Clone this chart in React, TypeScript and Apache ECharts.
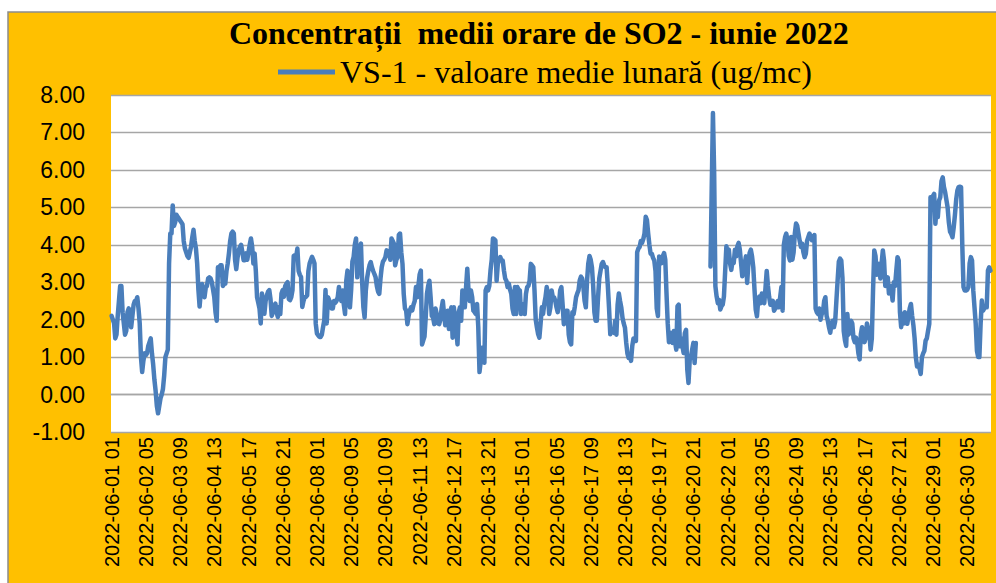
import React, { useEffect, useRef } from "react";
import * as echarts from "echarts";

const TITLE = "Concentrații  medii orare de SO2 - iunie 2022";
const SERIES_NAME = "VS-1 - valoare medie lunară (ug/mc)";

// Hourly values, 2022-06-01 01 ... 2022-06-30 24 (null = missing)
const days01to05: (number | null)[] = [
  2.1, 2.0, 1.9, 1.5, 1.6, 2.1, 2.5, 2.9, 2.9, 2.2,
  1.9, 1.6, 1.7, 2.2, 2.3, 2.1, 1.8, 2.1, 2.4, 2.5,
  2.5, 2.6, 2.3, 1.9, 1.0, 0.6, 0.9, 1.1, 1.05, 1.1,
  1.3, 1.4, 1.5, 1.1, 0.8, 0.4, 0.1, -0.3, -0.5, -0.3,
  -0.1, 0.0, 0.15, 0.5, 1.0, 1.1, 1.2, 3.5, 4.3, 4.3,
  5.05, 4.5, 4.6, 4.8, 4.75, 4.7, 4.65, 4.6, 4.55, 4.1,
  3.9, 3.8, 3.7, 3.65, 3.8, 3.95, 4.2, 4.4, 4.1, 3.9,
  3.5, 2.8, 2.35, 2.75, 2.95, 2.8, 2.6, 2.85, 2.9, 3.1,
  3.13, 3.1, 3.0, 2.8, 2.6, 2.2, 1.97, 3.4, 3.4, 3.45,
  3.45, 2.9, 2.95, 2.96, 3.3, 3.5, 3.77, 4.1, 4.3, 4.35,
  4.3, 3.6, 3.35, 3.65, 3.85, 3.95, 4.0, 3.8, 3.59, 3.59,
  3.77, 3.6, 3.8, 4.0, 4.17, 3.95, 3.5, 3.77, 3.3, 2.6,
];
const days06to10: (number | null)[] = [
  2.45, 2.3, 1.9, 2.7, 2.4, 2.16, 2.5, 2.65, 2.75, 2.79,
  2.55, 2.1, 2.2, 2.34, 2.43, 2.2, 2.07, 2.34, 2.15, 2.7,
  2.79, 2.61, 2.9, 2.96, 3.0, 2.55, 2.52, 2.6, 2.79, 3.7,
  3.72, 3.68, 3.9, 3.3, 3.2, 3.14, 2.34, 2.5, 2.6, 2.61,
  2.65, 3.3, 3.5, 3.59, 3.68, 3.6, 3.5, 1.9, 1.63, 1.58,
  1.54, 1.54, 1.6, 1.8, 1.98, 2.79, 1.9, 2.6, 2.52, 2.45,
  2.3, 2.3, 2.5, 2.45, 2.5, 2.6, 2.87, 2.6, 2.5, 2.78,
  2.4, 2.15, 3.04, 3.31, 2.5, 2.33, 2.8, 3.55, 3.67, 4.0,
  4.17, 3.13, 3.7, 3.94, 4.03, 3.0, 2.33, 2.06, 2.78, 3.1,
  3.3, 3.45, 3.54, 3.4, 3.3, 3.22, 3.13, 2.9, 2.75, 2.69,
  3.1, 3.4, 3.55, 3.6, 3.67, 3.85, 3.83, 3.81, 3.6, 4.17,
  4.1, 4.03, 3.45, 3.6, 3.67, 4.26, 4.3, 3.8, 3.49, 2.69,
];
const days11to15: (number | null)[] = [
  2.3, 2.24, 1.88, 2.1, 2.25, 2.33, 2.25, 2.4, 2.5, 2.87,
  2.6, 2.9, 3.2, 3.31, 1.34, 1.45, 1.55, 2.06, 2.69, 2.9,
  3.04, 2.6, 2.1, 2.06, 1.88, 2.3, 2.15, 1.9, 1.88, 2.0,
  2.3, 2.5, 2.15, 1.85, 2.0, 2.24, 1.75, 2.2, 2.33, 1.52,
  2.33, 2.0, 1.75, 1.34, 2.2, 2.33, 1.97, 2.78, 2.5, 2.33,
  2.87, 3.36, 2.78, 2.5, 2.78, 2.6, 2.24, 2.2, 2.15, 2.42,
  1.8, 0.6, 0.89, 1.25, 1.0, 0.85, 2.78, 2.87, 2.78, 2.9,
  3.31, 3.6, 4.17, 4.15, 4.12, 3.04, 3.49, 3.6, 3.67, 3.58,
  3.58, 3.31, 3.1, 3.04, 2.87, 2.96, 2.8, 2.69, 2.3, 2.15,
  2.87, 2.15, 2.87, 2.8, 2.78, 2.15, 2.42, 2.4, 2.15, 2.69,
  2.87, 2.9, 3.04, 3.49, 3.45, 3.4, 2.78, 2.0, 1.79, 1.61,
  1.52, 1.9, 2.33, 2.15, 2.42, 2.6, 2.87, 2.69, 2.15, 2.33,
];
const days16to20: (number | null)[] = [
  2.78, 2.6, 2.6, 2.5, 2.33, 2.2, 2.4, 2.78, 2.87, 2.4,
  1.88, 2.2, 2.24, 2.24, 1.6, 1.4, 1.34, 2.2, 2.15, 2.35,
  2.6, 2.7, 2.78, 3.05, 3.15, 3.1, 2.87, 2.5, 2.33, 3.04,
  3.5, 3.7, 3.6, 3.4, 2.9, 2.2, 1.97, 1.97, 2.6, 3.1,
  3.3, 3.49, 3.54, 3.45, 3.4, 3.4, 2.9, 2.3, 1.61, 1.75,
  1.7, 1.65, 1.97, 1.6, 2.4, 2.7, 2.5, 2.33, 2.05, 1.9,
  1.79, 1.4, 1.1, 0.98, 1.07, 0.9, 1.3, 1.5, 1.5, 1.43,
  3.8, 3.9, 3.94, 4.1, 4.05, 4.15, 4.3, 4.75, 4.66, 4.3,
  4.0, 3.76, 3.76, 3.65, 3.58, 3.3, 2.3, 2.1, 3.69, 3.6,
  3.51, 3.7, 3.78, 3.6, 2.7, 1.9, 1.4, 1.65, 1.6, 1.38,
  1.7, 1.4, 1.2, 2.36, 2.4, 1.29, 1.5, 1.3, 1.11, 1.64,
  1.73, 0.67, 0.31, 0.93, 1.02, 1.2, 1.38, 0.84, 1.38, null,
];
const days21to25: (number | null)[] = [
  null, null, null, null, null, null, null, null, null, null,
  3.42, 5.5, 7.52, 5.9, 2.89, 2.62, 2.44, 2.53, 2.27, 2.36,
  2.4, 2.62, 3.3, 3.96, 3.78, 3.87, 3.5, 3.33, 3.55, 3.51,
  3.87, 3.69, 3.96, 4.05, 3.87, 3.51, 3.16, 3.33, 3.5, 3.69,
  2.98, 3.5, 3.78, 3.87, 3.69, 3.4, 2.8, 2.27, 2.09, 2.5,
  2.62, 2.44, 2.7, 2.6, 2.44, 2.85, 3.3, 2.9, 2.6, 2.4,
  2.45, 2.5, 2.24, 2.3, 2.4, 2.5, 2.33, 2.6, 2.87, 2.24,
  4.0, 4.2, 4.3, 4.12, 3.7, 3.58, 4.21, 3.6, 3.8, 4.3,
  4.57, 4.5, 4.3, 4.1, 3.94, 4.03, 3.8, 3.67, 3.76, 4.1,
  4.2, 4.3, 4.21, 4.12, 4.2, 4.26, 2.3, 2.2, 2.15, 2.3,
  2.0, 2.15, 2.2, 2.5, 2.6, 2.1, 1.97, 1.79, 1.65, 1.9,
  1.97, 1.8, 1.95, 2.5, 3.04, 3.55, 3.63, 3.58, 3.1, 1.7,
];
const days26to30: (number | null)[] = [
  1.45, 1.3, 2.15, 1.6, 1.7, 1.97, 1.9, 1.5, 1.4, 1.52,
  1.4, 1.1, 0.94, 1.61, 1.8, 1.6, 1.4, 1.52, 1.9, 1.75,
  1.61, 1.2, 1.5, 2.8, 3.85, 3.7, 3.2, 3.3, 3.49, 3.1,
  3.5, 3.85, 3.58, 2.9, 3.0, 3.13, 2.7, 2.9, 2.8, 2.51,
  3.0, 2.9, 3.3, 3.67, 3.58, 2.2, 1.8, 2.15, 1.9, 2.2,
  2.1, 1.89, 2.1, 2.3, 2.42, 2.1, 1.85, 1.5, 1.0, 0.75,
  0.8, 0.7, 0.55, 1.0, 1.1, 1.17, 1.44, 1.5, 1.7, 1.89,
  5.27, 5.1, 5.3, 5.36, 4.56, 5.0, 4.74, 5.18, 5.27, 5.7,
  5.8, 5.54, 5.4, 5.2, 5.0, 4.6, 4.35, 4.29, 4.2, 4.47,
  4.8, 5.2, 5.45, 5.54, 5.55, 5.54, 4.0, 2.87, 2.78, 2.78,
  2.8, 2.87, 3.5, 3.67, 3.58, 2.78, 2.33, 1.89, 1.17, 1.0,
  1.0, 1.89, 2.51, 2.24, 2.3, 2.33, 2.33, 3.31, 3.4, 3.31,
];

const values = [
  ...days01to05,
  ...days06to10,
  ...days11to15,
  ...days16to20,
  ...days21to25,
  ...days26to30,
];

const pad = (n: number) => (n < 10 ? "0" + n : "" + n);
const categories: string[] = values.map((_, i) => {
  const h = i + 1;
  const day = 1 + Math.floor(h / 24);
  const hour = h % 24;
  return `2022-06-${pad(day)} ${pad(hour)}`;
});

export default function App() {
  const ref = useRef<HTMLDivElement>(null);
  useEffect(() => {
    if (!ref.current) return;
    const chart = echarts.init(ref.current, null, { renderer: "svg" });
    chart.setOption({
      animation: false,
      backgroundColor: "#ffffff",
      graphic: [
        {
          type: "rect",
          z: -10,
          silent: true,
          shape: { x: 8, y: 12, width: 995, height: 580 },
          style: { fill: "#FFC000", stroke: "#8C8C8C", lineWidth: 1.5 },
        },
      ],
      title: {
        text: TITLE,
        left: 229,
        top: 17,
        padding: 0,
        textStyle: {
          fontFamily: "Liberation Serif",
          fontWeight: "bold",
          fontSize: 32,
          color: "#000000",
        },
      },
      legend: {
        left: 278,
        top: 56,
        padding: 0,
        icon: "rect",
        itemWidth: 57,
        itemHeight: 5,
        textStyle: {
          fontFamily: "Liberation Serif",
          fontSize: 32,
          color: "#000000",
        },
        data: [SERIES_NAME],
      },
      grid: {
        left: 111,
        right: 5,
        top: 95,
        bottom: 151,
        show: true,
        backgroundColor: "#ffffff",
        borderWidth: 0,
      },
      xAxis: {
        type: "category",
        data: categories,
        boundaryGap: true,
        axisLine: { show: true, lineStyle: { color: "#A6A6A6", width: 1.3 } },
        axisTick: { show: false },
        axisLabel: {
          interval: 27,
          rotate: 90,
          margin: 5,
          fontFamily: "Liberation Sans",
          fontSize: 20,
          color: "#000000",
        },
      },
      yAxis: {
        type: "value",
        min: -1,
        max: 8,
        interval: 1,
        axisLine: { show: false },
        axisTick: { show: false },
        splitLine: { lineStyle: { color: "#A6A6A6", width: 1.3 } },
        axisLabel: {
          margin: 26,
          fontFamily: "Liberation Sans",
          fontSize: 23,
          color: "#000000",
          formatter: (v: number) => v.toFixed(2),
        },
      },
      series: [
        {
          name: SERIES_NAME,
          type: "line",
          data: values,
          showSymbol: false,
          connectNulls: false,
          color: "#4A7EBB",
          lineStyle: { color: "#4A7EBB", width: 4.5, join: "round", cap: "round" },
        },
      ],
    });
    return () => chart.dispose();
  }, []);
  return (
    <div
      ref={ref}
      style={{ position: "absolute", left: 0, top: 0, width: 996, height: 583 }}
    />
  );
}
